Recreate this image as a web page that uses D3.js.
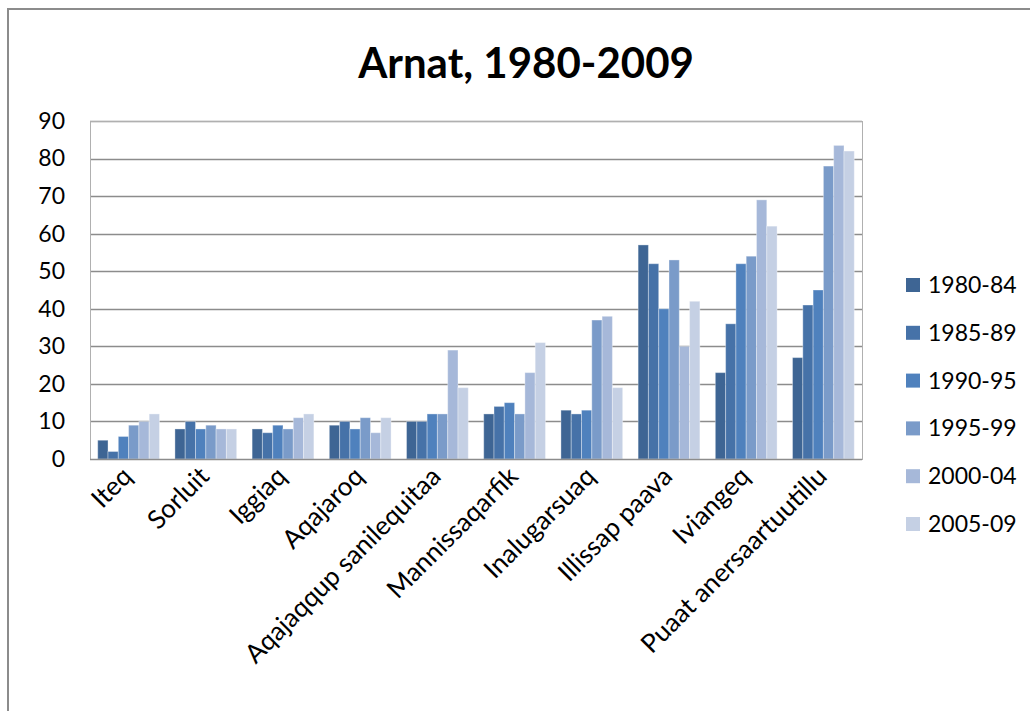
<!DOCTYPE html>
<html>
<head>
<meta charset="utf-8">
<script src="https://cdn.jsdelivr.net/npm/d3@7"></script>
<style>
  body { margin: 0; background: #fff; }
  svg text { font-family: Lato, "Open Sans", sans-serif; fill: #000; }
</style>
</head>
<body>
<div id="chart"></div>
<script>
// data
var categories = ["Iteq", "Sorluit", "Iggiaq", "Aqajaroq", "Aqajaqqup sanilequitaa",
  "Mannissaqarfik", "Inalugarsuaq", "Illissap paava", "Iviangeq", "Puaat anersaartuutillu"];
var periods = ["1980-84", "1985-89", "1990-95", "1995-99", "2000-04", "2005-09"];
var v1980 = [5, 8, 8, 9, 10, 12, 13, 57, 23, 27];
var v1985 = [2, 10, 7, 10, 10, 14, 12, 52, 36, 41];
var v1990 = [6, 8, 9, 8, 12, 15, 13, 40, 52, 45];
var v1995 = [9, 9, 8, 11, 12, 12, 37, 53, 54, 78];
var v2000 = [10, 8, 11, 7, 29, 23, 38, 30, 69, 83.5];
var v2005 = [12, 8, 12, 11, 19, 31, 19, 42, 62, 82];
var yTicks = [0, 10, 20, 30, 40, 50, 60, 70, 80, 90];
var colors = ["#3e6594", "#4672a8", "#4f81bd", "#7a9bc9", "#a6b8d9", "#c5d0e4"];

var series = [v1980, v1985, v1990, v1995, v2000, v2005];

var width = 1030, height = 711;
var margin = {top: 121, right: 168, bottom: 252, left: 90};
var w = width - margin.left - margin.right,
    h = height - margin.top - margin.bottom;

var svg = d3.select("#chart").append("svg")
  .attr("width", width)
  .attr("height", height);

// outer chart border (runs off the right and bottom edges)
svg.append("rect")
  .attr("x", 8).attr("y", 9)
  .attr("width", 1100).attr("height", 800)
  .attr("fill", "none")
  .attr("stroke", "#8c8c8c")
  .attr("stroke-width", 2);

svg.append("text")
  .attr("x", 526).attr("y", 78)
  .attr("text-anchor", "middle")
  .style("font-size", "42px")
  .style("font-weight", "bold")
  .text("Arnat, 1980-2009");

var g = svg.append("g")
  .attr("transform", "translate(" + margin.left + "," + margin.top + ")");

var x0 = d3.scaleBand().domain(categories).range([0, w]).paddingInner(0.2).paddingOuter(0.1);
var x1 = d3.scaleBand().domain(periods).range([0, x0.bandwidth()]);
var y = d3.scaleLinear().domain([0, 90]).range([h, 0]);

// gridlines
g.append("g")
  .selectAll("line")
  .data(yTicks.filter(function(d) { return d > 0; }))
  .enter().append("line")
    .attr("x1", 0).attr("x2", w)
    .attr("y1", function(d) { return Math.round(y(d)) + 0.5; })
    .attr("y2", function(d) { return Math.round(y(d)) + 0.5; })
    .attr("stroke", "#8c8c8c")
    .attr("stroke-width", 1.4);

// plot frame
g.append("rect")
  .attr("x", 0.5).attr("y", 0.5)
  .attr("width", w).attr("height", h)
  .attr("fill", "none")
  .attr("stroke", "#b0b0b0")
  .attr("stroke-width", 1);

// bars
var groups = g.append("g")
  .selectAll("g")
  .data(categories)
  .enter().append("g")
    .attr("transform", function(d) { return "translate(" + x0(d) + ",0)"; });

groups.selectAll("rect")
  .data(function(d, i) {
    return periods.map(function(p, j) { return {period: p, value: series[j][i], idx: j}; });
  })
  .enter().append("rect")
    .attr("x", function(d) { return x1(d.period); })
    .attr("y", function(d) { return y(d.value); })
    .attr("width", x1.bandwidth())
    .attr("height", function(d) { return h - y(d.value); })
    .attr("fill", function(d) { return colors[d.idx]; })
    .attr("stroke", "#ffffff")
    .attr("stroke-opacity", 0.35)
    .attr("stroke-width", 1);

// baseline
g.append("line")
  .attr("x1", 0).attr("x2", w)
  .attr("y1", h + 0.5).attr("y2", h + 0.5)
  .attr("stroke", "#8c8c8c")
  .attr("stroke-width", 1.5);

// y axis labels
var yAxis = g.append("g")
  .call(d3.axisLeft(y).tickValues(yTicks).tickSize(0).tickPadding(25));
yAxis.select(".domain").remove();
yAxis.selectAll("text")
  .style("font-size", "23px")
  .style("font-family", "Lato, 'Open Sans', sans-serif");

// x axis labels, rotated
var xAxis = g.append("g")
  .attr("transform", "translate(0," + h + ")")
  .call(d3.axisBottom(x0).tickSize(0).tickPadding(0));
xAxis.select(".domain").remove();
xAxis.selectAll("text")
  .style("font-size", "26px")
  .style("font-family", "Lato, 'Open Sans', sans-serif")
  .attr("text-anchor", "end")
  .attr("dy", "0")
  .attr("transform", "translate(5,19) rotate(-45)");

// legend
var legend = svg.append("g")
  .selectAll("g")
  .data(periods)
  .enter().append("g")
    .attr("transform", function(d, i) { return "translate(906," + (285 + i * 47.8) + ")"; });

legend.append("rect")
  .attr("x", 0).attr("y", -7)
  .attr("width", 14).attr("height", 14)
  .attr("fill", function(d, i) { return colors[i]; });

legend.append("text")
  .attr("x", 22).attr("y", 0)
  .attr("dy", "0.35em")
  .style("font-size", "23px")
  .text(function(d) { return d; });
</script>
</body>
</html>
